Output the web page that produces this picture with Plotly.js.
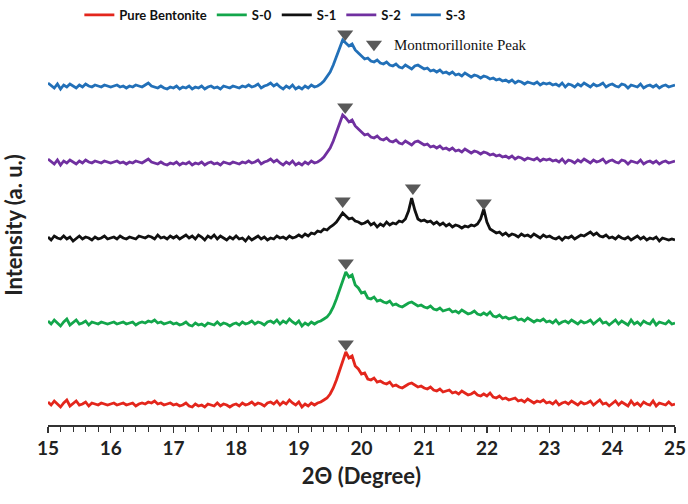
<!DOCTYPE html>
<html>
<head>
<meta charset="utf-8">
<script src="https://cdn.plot.ly/plotly-3.0.1.min.js"></script>
<style>html,body{margin:0;padding:0;background:#fff;}#chart{width:688px;height:504px;}</style>
</head>
<body>
<div id="chart"></div>
<script>
// 2θ sampling: 15.00 .. 25.00 in 0.05° steps (201 points)
const thetaStart = 15, thetaStep = 0.05, nPoints = 201;

const seriesNames = ["Pure Bentonite", "S-0", "S-1", "S-2", "S-3"];
const seriesColors = ["#E3261C", "#13A64B", "#111111", "#7030A0", "#2270B8"];
// vertical stacking offsets (a. u.)
const offsets = [21, 102, 187, 263, 339];

const pureBentonite = [
 2,-1,3,0,-3,1,4,-2,1,3,-1,0,2,-2,1,0,-1,1,0,-1,
 0,1,-1,0,1,-1,0,1,-2,0,1,0,2,1,3,0,1,-1,0,1,
 -1,0,-2,-1,1,-2,-3,0,-2,-1,-3,0,-1,-2,1,-2,0,-1,-3,-1,
 0,-2,1,-1,0,2,-1,1,0,-2,1,2,0,3,-1,2,0,4,1,-1,
 2,-3,0,-2,1,-1,1,2,4,6,10,16,24,33,43,52,46,48,38,35,
 30,31,25,24,26,22,23,21,20,22,18,19,17,16,18,20,21,19,17,18,
 16,15,17,14,13,15,12,13,14,11,12,10,13,11,9,10,12,9,8,10,
 8,11,7,6,8,5,6,4,5,6,3,4,2,5,3,1,3,2,4,1,
 2,0,3,-1,1,2,0,3,1,-1,2,0,1,3,-1,2,4,0,1,-2,
 1,3,-1,2,0,-2,3,-1,1,-2,2,0,-1,3,-2,1,0,-1,2,-1,
 0];

const s0 = [
 2,-1,3,0,-3,1,4,-2,1,3,-1,0,2,-2,1,0,-1,1,0,-1,
 0,1,-1,0,1,-1,0,1,-2,0,1,0,2,1,3,0,1,-1,0,1,
 -1,0,-2,-1,1,-2,-3,0,-2,-1,-3,0,-1,-2,1,-2,0,-1,-3,-1,
 0,-2,1,-1,0,2,-1,1,0,-2,1,2,0,3,-1,2,0,4,1,-1,
 2,-3,0,-2,1,-1,1,2,4,6,10,16,24,33,43,51,46,48,38,35,
 30,31,25,24,26,22,23,21,20,22,18,19,17,16,18,20,21,19,17,18,
 16,15,17,14,13,15,12,13,14,11,12,10,13,11,9,10,12,9,8,10,
 8,11,7,6,8,5,6,4,5,6,3,4,2,5,3,1,3,2,4,1,
 2,0,3,-1,1,2,0,3,1,-1,2,0,1,3,-1,2,4,0,1,-2,
 1,3,-1,2,0,-2,3,-1,1,-2,2,0,-1,3,-2,1,0,-1,2,-1,
 0];

const s1 = [
 1,-2,2,0,-1,2,-1,1,-3,0,2,-1,1,0,-2,1,-1,0,2,-1,
 0,1,-1,2,0,-1,1,0,-1,2,1,0,2,1,-1,3,0,1,-1,2,
 0,2,-1,1,3,0,2,-1,3,1,-2,2,0,3,-1,2,0,-2,1,-1,
 2,-1,0,-3,1,-2,0,2,-1,1,-2,0,-1,2,0,1,-1,2,0,1,
 3,1,4,2,5,4,7,6,9,8,11,13,16,20,25,22,19,20,17,16,
 14,15,17,13,15,11,14,12,16,13,15,14,17,16,19,27,40,28,19,17,
 18,16,17,14,16,13,15,12,14,11,13,12,10,12,11,13,12,14,19,29,
 16,9,7,5,6,3,5,2,4,3,1,4,2,3,1,4,2,0,3,1,
 2,0,-1,1,-2,1,0,2,-1,1,3,2,4,6,3,5,2,1,3,0,
 1,-1,2,0,-1,1,-2,0,2,-1,1,-2,0,-1,1,-3,0,-1,-2,-1,
 -2];

const s2 = [
 3,0,-2,2,-3,1,-1,2,0,-2,1,-1,2,0,-1,1,0,-1,1,0,
 -1,0,1,-1,0,-2,0,-1,1,0,-1,1,3,0,-1,-2,0,-2,-3,-1,
 -2,0,-3,-1,-2,0,-3,-1,-2,0,-3,-1,0,-2,-1,-3,0,-1,-2,0,
 -1,-2,0,-1,1,-1,0,2,-2,0,1,3,0,2,-1,-3,0,-2,1,-3,
 -1,-3,0,-2,1,-1,0,2,5,9,14,21,30,39,47,44,40,42,36,33,
 30,27,28,25,24,26,23,22,24,21,20,22,19,18,21,19,17,20,21,19,
 17,18,15,16,14,16,13,14,12,14,11,12,10,13,11,9,11,10,8,10,
 9,7,8,6,7,5,6,4,6,3,5,4,2,4,3,2,4,1,3,2,
 3,1,2,0,3,-1,2,1,-1,2,0,3,1,-1,2,0,1,3,-1,1,
 2,0,-1,2,1,-2,1,0,-1,2,-2,0,1,-1,1,-2,0,1,-1,0,
 1];

const s3 = [
 3,0,-2,2,-3,1,-1,2,0,-2,1,-1,2,0,-1,1,0,-1,1,0,
 -1,0,1,-1,0,-2,0,-1,1,0,-1,1,3,0,-1,-2,0,-2,-3,-1,
 -2,0,-3,-1,-2,0,-3,-1,-2,0,-3,-1,0,-2,-1,-3,0,-1,-2,0,
 -1,-2,0,-1,1,-1,0,2,-2,0,1,3,0,2,-1,-3,0,-2,1,-3,
 -1,-3,0,-2,1,-1,0,2,5,9,14,21,30,39,46,43,40,42,36,33,
 30,27,28,25,24,26,23,22,24,21,20,22,19,18,21,19,17,20,21,19,
 17,18,15,16,14,16,13,14,12,14,11,12,10,13,11,9,11,10,8,10,
 9,7,8,6,7,5,6,4,6,3,5,4,2,4,3,2,4,1,3,2,
 3,1,2,0,3,-1,2,1,-1,2,0,3,1,-1,2,0,1,3,-1,1,
 2,0,-1,2,1,-2,1,0,-1,2,-2,0,1,-1,1,-2,0,1,-1,0,
 1];

// Montmorillonite peak markers (2θ, stacked intensity)
const peakX = [19.75, 19.75, 19.70, 20.82, 21.95, 19.74, 19.74];
const peakY = [81, 162, 224, 237, 222, 318, 391];

const xTicks = [15,16,17,18,19,20,21,22,23,24,25];

const theta = [];
for (let i = 0; i < nPoints; i++) theta.push(+(thetaStart + i * thetaStep).toFixed(2));

const allSeries = [pureBentonite, s0, s1, s2, s3];
const traces = allSeries.map((vals, k) => ({
  x: theta,
  y: vals.map(v => v + offsets[k]),
  type: 'scatter',
  mode: 'lines',
  name: seriesNames[k],
  line: {color: seriesColors[k], width: 2.8},
  legend: 'legend'
}));

traces.push({
  x: peakX,
  y: peakY,
  type: 'scatter',
  mode: 'markers',
  name: 'Montmorillonite Peak',
  marker: {symbol: 'triangle-down', size: 14, color: '#595959'},
  legend: 'legend2'
});

const layout = {
  width: 688, height: 504,
  margin: {l: 48, r: 13, t: 25, b: 79, autoexpand: false},
  paper_bgcolor: '#fff', plot_bgcolor: '#fff',
  font: {family: 'Lato, "Open Sans", sans-serif', color: '#222'},
  xaxis: {
    range: [15, 25],
    tickvals: xTicks,
    ticktext: xTicks.map(String),
    ticks: 'outside', ticklen: 6, tickwidth: 1.2, tickcolor: '#333',
    minor: {dtick: 0.2, ticks: 'outside', ticklen: 5, tickwidth: 1, tickcolor: '#333', showgrid: false},
    showline: true, linecolor: '#333', linewidth: 1.5,
    showgrid: false, zeroline: false,
    tickfont: {size: 19, family: 'Lato, sans-serif', color: '#222', weight: 'bold'},
    title: {text: '2Θ (Degree)', font: {size: 22, family: 'Lato, sans-serif', color: '#222', weight: 'bold'}, standoff: 10}
  },
  yaxis: {
    range: [0, 400],
    showticklabels: false, ticks: '', showline: false, showgrid: false, zeroline: false,
    title: {text: 'Intensity (a. u.)', font: {size: 22, family: 'Lato, sans-serif', color: '#222', weight: 'bold'}, standoff: 22}
  },
  showlegend: true,
  legend: {
    orientation: 'h', x: 0.05, xanchor: 'left', y: 1.0625, yanchor: 'top',
    font: {size: 13, family: 'Lato, sans-serif', color: '#111', weight: 'bold'},
    bgcolor: 'rgba(0,0,0,0)', tracegroupgap: 0
  },
  legend2: {
    x: 0.488, xanchor: 'left', y: 0.9925, yanchor: 'top',
    font: {size: 15, family: '"Liberation Serif", "Times New Roman", serif', color: '#111'},
    bgcolor: 'rgba(0,0,0,0)', itemwidth: 30
  }
};

Plotly.newPlot('chart', traces, layout, {displayModeBar: false, staticPlot: true});
</script>
</body>
</html>
